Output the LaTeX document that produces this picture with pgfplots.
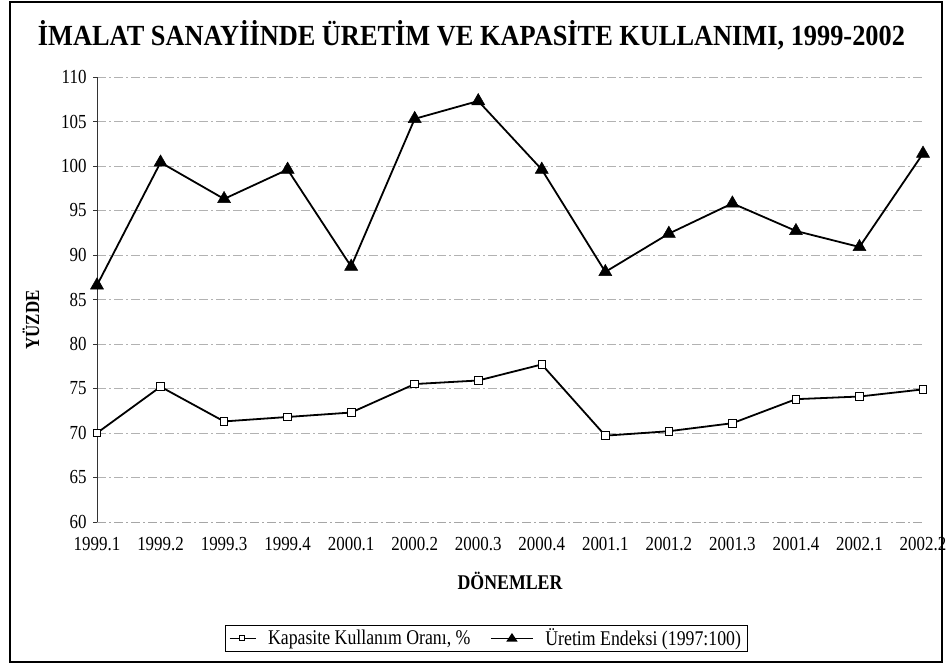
\documentclass[border=0pt]{standalone}
\usepackage{fontspec}
\setmainfont{Liberation Serif}[FakeStretch=0.85]
\usepackage{pgfplots}
\pgfplotsset{compat=1.18}
\begin{document}
\begin{tikzpicture}[x=1bp,y=1bp]
\path[use as bounding box] (0,0) rectangle (946,666);
\draw[line width=1.2bp] (10,4) rectangle (942,664);
\node[anchor=base, inner sep=0] at (471.5,620) {\resizebox{867bp}{25bp}{\bfseries İMALAT SANAYİİNDE ÜRETİM VE KAPASİTE KULLANIMI, 1999-2002}};
\begin{axis}[
  at={(97bp,144bp)}, anchor=south west, scale only axis,
  width=826bp, height=445bp,
  xmin=0, xmax=13, ymin=60, ymax=110,
  ytick={60,65,...,110},
  xtick={0,...,13},
  xticklabels={1999.1,1999.2,1999.3,1999.4,2000.1,2000.2,2000.3,2000.4,2001.1,2001.2,2001.3,2001.4,2002.1,2002.2},
  /pgf/number format/assume math mode=true,
  ymajorgrids,
  major grid style={gray!60, dash pattern=on 9bp off 3bp on 2bp off 3bp, line width=0.6bp},
  axis x line*=bottom, axis y line*=left,
  x axis line style={draw=gray!70, dash pattern=on 9bp off 3bp on 2bp off 3bp, line width=0.7bp},
  y axis line style={black!80, line width=0.6bp},
  xtick style={draw=none},
  ytick style={black!80, line width=0.6bp},
  tick align=outside, major tick length=4bp,
  tick label style={font=\fontsize{20}{20}\selectfont},
  yticklabel style={xshift=-3bp},
  xticklabel style={yshift=-8bp},
  xlabel={\bfseries DÖNEMLER},
  ylabel={\bfseries YÜZDE},
  every axis x label/.style={at={(axis description cs:0.5,-0.1326)}, anchor=center, font=\fontsize{21}{21}\selectfont},
  every axis y label/.style={at={(axis description cs:-0.0799,0.454)}, rotate=90, anchor=center, font=\fontsize{20}{20}\selectfont},
  legend style={at={(0.471,-0.261)}, anchor=center, draw=black, line width=0.5bp,
    font=\fontsize{21}{21}\selectfont, inner ysep=1.5bp, inner xsep=4bp},
  legend columns=2,
  /tikz/every odd column/.append style={column sep=10bp},
  /tikz/every even column/.append style={column sep=18bp},
  clip=false,
]
\addplot[black, line width=1.8bp, mark=square*, mark size=3.8bp,
  mark options={fill=white, line width=0.9bp},
  legend image code/.code={\draw[black, line width=0.9bp] (0bp,0bp) -- (26bp,0bp); \draw[black, fill=white, line width=0.7bp] (10bp,-2.5bp) rectangle (15bp,2.5bp);}]
 coordinates {(0,70.0) (1,75.2) (2,71.3) (3,71.8) (4,72.3) (5,75.5) (6,75.9) (7,77.7) (8,69.7) (9,70.2) (10,71.1) (11,73.8) (12,74.1) (13,74.9)};
\addlegendentry{Kapasite Kullanım Oranı, \%}
\addplot[black, line width=1.8bp, mark=triangle*, mark size=7.5bp,
  mark options={fill=black, line width=0.5bp},
  legend image code/.code={\draw[black, line width=0.9bp] (0bp,0bp) -- (42bp,0bp); \fill[black] (17bp,-2.5bp) -- (25bp,-2.5bp) -- (21bp,3.5bp) -- cycle;}]
 coordinates {(0,86.6) (1,100.4) (2,96.3) (3,99.6) (4,88.7) (5,105.3) (6,107.3) (7,99.6) (8,88.1) (9,92.4) (10,95.8) (11,92.7) (12,90.9) (13,101.4)};
\addlegendentry{Üretim Endeksi (1997:100)}
\end{axis}
\end{tikzpicture}
\end{document}
